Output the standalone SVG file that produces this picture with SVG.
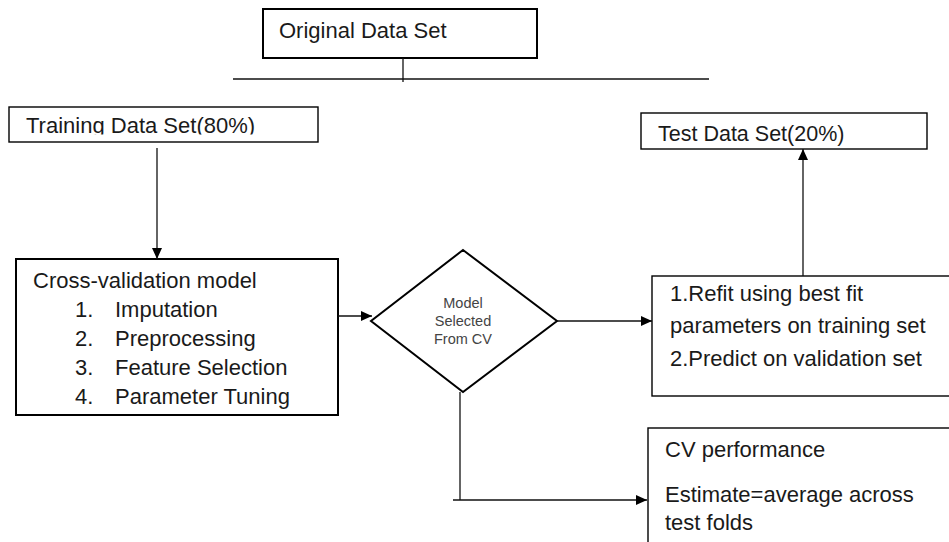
<svg xmlns="http://www.w3.org/2000/svg" width="949" height="542" viewBox="0 0 949 542">
<style>
.box{fill:#fff;stroke:#000;stroke-width:1.4}
.thick{stroke-width:2}
.t{font-family:"Liberation Sans",Arial,sans-serif;font-size:22px;fill:#1a1a1a}
.d{font-family:"Liberation Sans",Arial,sans-serif;font-size:14.5px;fill:#444;text-anchor:middle}
.ln{fill:none;stroke:#111;stroke-width:1.3}
</style>
<defs>
<marker id="ah" markerUnits="userSpaceOnUse" markerWidth="11" markerHeight="10" refX="11" refY="5" orient="auto">
<path d="M0,0 L11,5 L0,10 z" fill="#000"/>
</marker>
<clipPath id="clipTrain"><rect x="9" y="107" width="309" height="27.5"/></clipPath>
</defs>
<g id="original">
<rect class="box thick" x="263" y="9" width="274" height="49"/>
<text class="t" x="279" y="38">Original Data Set</text>
</g>
<g id="training">
<rect class="box" x="9" y="107" width="309" height="35"/>
<text class="t" x="26" y="133" clip-path="url(#clipTrain)">Training Data Set(80%)</text>
</g>
<g id="cvmodel">
<rect class="box thick" x="16" y="259" width="322" height="156"/>
<text class="t" x="33" y="288">Cross-validation model</text>
<text class="t" x="75" y="317">1.</text><text class="t" x="115" y="317">Imputation</text>
<text class="t" x="75" y="346">2.</text><text class="t" x="115" y="346">Preprocessing</text>
<text class="t" x="75" y="375">3.</text><text class="t" x="115" y="375">Feature Selection</text>
<text class="t" x="75" y="404">4.</text><text class="t" x="115" y="404">Parameter Tuning</text>
</g>
<g id="decision">
<polygon points="463,250 557,321 463,392 371,321" fill="#fff" stroke="#000" stroke-width="2"/>
<text class="d" x="463" y="308">Model</text>
<text class="d" x="463" y="326">Selected</text>
<text class="d" x="463" y="344">From CV</text>
</g>
<g id="test">
<rect class="box" x="641" y="113" width="286" height="36"/>
<text class="t" x="658" y="141" style="font-size:21.5px">Test Data Set(20%)</text>
</g>
<g id="refit">
<rect class="box" x="652" y="276" width="310" height="120"/>
<text class="t" x="670" y="301">1.Refit using best fit</text>
<text class="t" x="670" y="333">parameters on training set</text>
<text class="t" x="670" y="366">2.Predict on validation set</text>
</g>
<g id="cvperf">
<rect class="box" x="648" y="428" width="320" height="130"/>
<text class="t" x="665" y="457">CV performance</text>
<text class="t" x="665" y="502">Estimate=average across</text>
<text class="t" x="665" y="530">test folds</text>
</g>
<g id="connectors">
<line class="ln" x1="403" y1="58" x2="403" y2="82"/>
<line class="ln" x1="233" y1="79" x2="709" y2="79"/>
<line class="ln" x1="157" y1="148" x2="157" y2="259" marker-end="url(#ah)"/>
<line class="ln" x1="338" y1="316" x2="372" y2="316" marker-end="url(#ah)"/>
<line class="ln" x1="557" y1="321" x2="652" y2="321" marker-end="url(#ah)"/>
<line class="ln" x1="803" y1="276" x2="803" y2="149" marker-end="url(#ah)"/>
<line class="ln" x1="460" y1="392" x2="460" y2="500"/>
<line class="ln" x1="453" y1="500" x2="647" y2="500" marker-end="url(#ah)"/>
</g>
</svg>
